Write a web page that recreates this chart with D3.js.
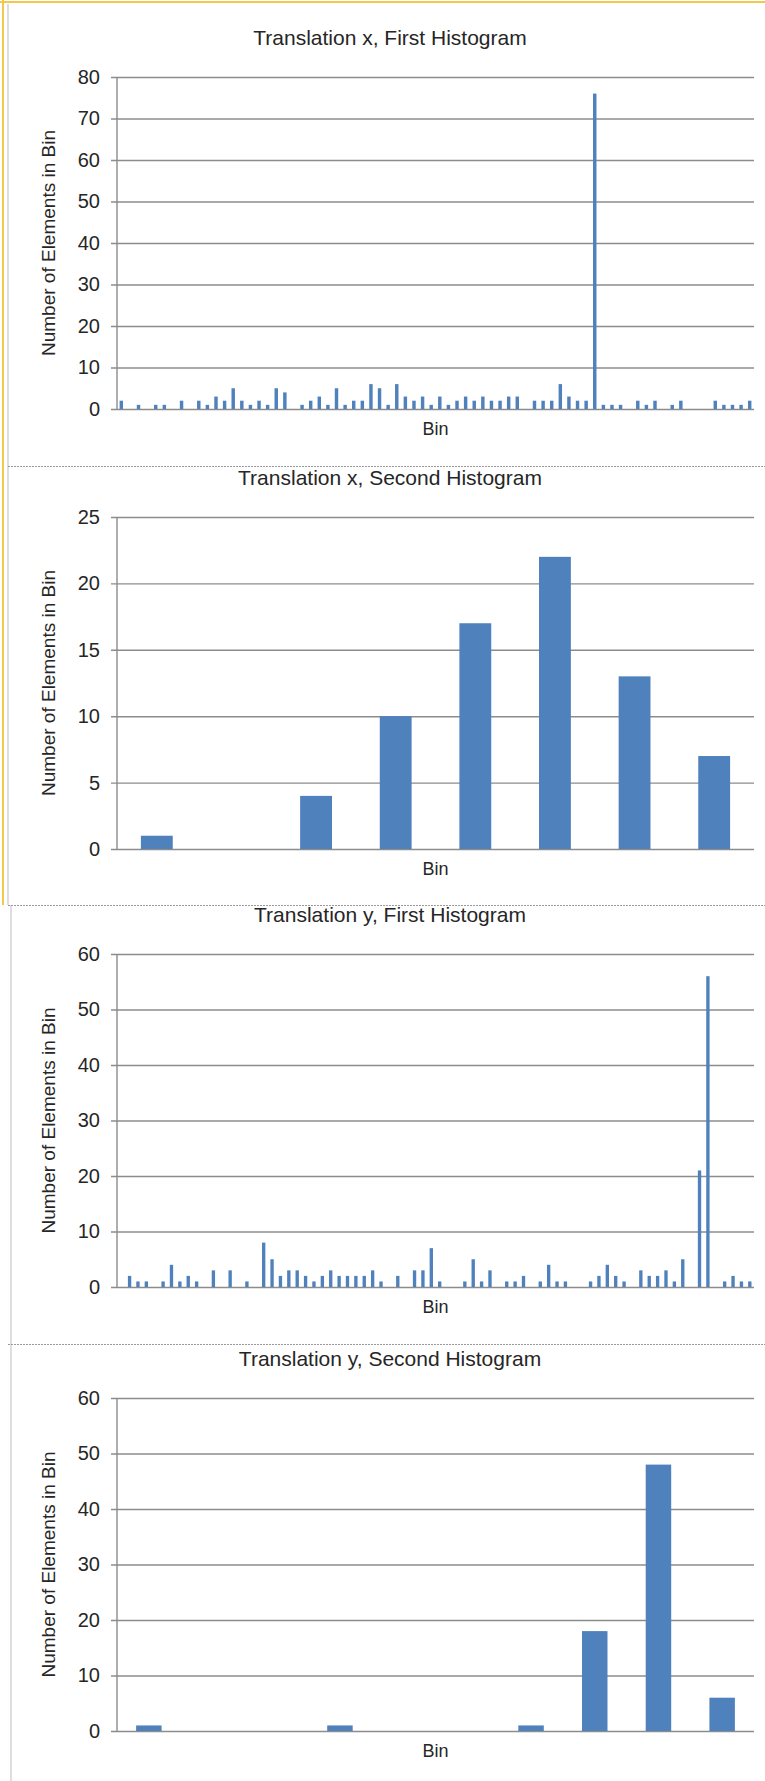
<!DOCTYPE html>
<html lang="en">
<head>
  <meta charset="utf-8">
  <title>Translation histograms</title>
  <script src="https://d3js.org/d3.v7.min.js"></script>
  <style>
    body { margin: 0; background: #fff; }
    svg { display: block; font-family: "Liberation Sans", Arial, sans-serif; }
  </style>
</head>
<body>
  <svg id="chart" width="765" height="1781"></svg>

  <script>
    // counts per bin
    const binsX1 = [2,0,1,0,1,1,0,2,0,2,1,3,2,5,2,1,2,1,5,4,0,1,2,3,1,5,1,2,2,6,
                    5,1,6,3,2,3,1,3,1,2,3,2,3,2,2,3,3,0,2,2,2,6,3,2,2,76,1,1,1,0,
                    2,1,2,0,1,2,0,0,0,2,1,1,1,2];
    const binsX2 = [1,0,4,10,17,22,13,7];
    const binsY1 = [0,2,1,1,0,1,4,1,2,1,0,3,0,3,0,1,0,8,5,2,3,3,2,1,2,3,2,2,2,2,
                    3,1,0,2,0,3,3,7,1,0,0,1,5,1,3,0,1,1,2,0,1,4,1,1,0,0,1,2,4,2,
                    1,0,3,2,2,3,1,5,0,21,56,0,1,2,1,1];
    const binsY2 = [1,0,0,1,0,0,1,18,48,6];

    const titles = [
      "Translation x, First Histogram",
      "Translation x, Second Histogram",
      "Translation y, First Histogram",
      "Translation y, Second Histogram"
    ];
    const ticksX1 = [0,10,20,30,40,50,60,70,80];
    const ticksX2 = [0,5,10,15,20,25];
    const ticksY1 = [0,10,20,30,40,50,60];
    const ticksY2 = [0,10,20,30,40,50,60];
    const yLabel = "Number of Elements in Bin";
    const xLabel = "Bin";

    const series = [binsX1, binsX2, binsY1, binsY2];
    const tickSets = [ticksX1, ticksX2, ticksY1, ticksY2];

    // layout of each panel (top edge, plot top, plot baseline)
    const panels = [
      {top: 4,    plotTop: 77,   base: 409},
      {top: 466,  plotTop: 517,  base: 849},
      {top: 905,  plotTop: 954,  base: 1287},
      {top: 1344, plotTop: 1398, base: 1731}
    ];
    const left = 117, right = 754;
    const barColor = "#4f81bd";
    const gridColor = "#8c8c8c";

    const svg = d3.select("#chart");

    // frames
    svg.append("line").attr("x1", 0).attr("x2", 765).attr("y1", 2).attr("y2", 2)
      .attr("stroke", "#f2c94c").attr("stroke-width", 2);
    svg.append("line").attr("x1", 3).attr("x2", 3).attr("y1", 0).attr("y2", 905)
      .attr("stroke", "#f2c94c").attr("stroke-width", 2);
    svg.append("line").attr("x1", 8).attr("x2", 8).attr("y1", 4).attr("y2", 905)
      .attr("stroke", "#bdbdbd");
    svg.append("line").attr("x1", 11).attr("x2", 11).attr("y1", 905).attr("y2", 1781)
      .attr("stroke", "#bdbdbd");
    [466, 905, 1344].forEach(y => {
      svg.append("line").attr("x1", 8).attr("x2", 765).attr("y1", y + 0.5).attr("y2", y + 0.5)
        .attr("stroke", "#9a9a9a").attr("stroke-dasharray", "2,1");
    });

    series.forEach((values, i) => {
      const p = panels[i];
      const ticks = tickSets[i];
      const g = svg.append("g");

      const x = d3.scaleBand()
          .domain(d3.range(values.length))
          .range([left, right])
          .paddingInner(0.6)
          .paddingOuter(0.3);

      const y = d3.scaleLinear()
          .domain([0, d3.max(ticks)])
          .range([p.base, p.plotTop]);

      // gridlines + tick labels
      const yAxis = d3.axisLeft(y)
          .tickValues(ticks)
          .tickSize(-(right - left) - 6)
          .tickPadding(12)
          .tickFormat(d3.format("d"));

      const ax = g.append("g")
          .attr("transform", `translate(${right},0)`)
          .call(yAxis);
      ax.select(".domain").remove();
      ax.selectAll(".tick line")
          .attr("stroke", gridColor)
          .attr("stroke-width", 1.4)
          .attr("x1", 0)
          .attr("x2", -(right - left) - 6);
      ax.selectAll(".tick text")
          .attr("x", -(right - left) - 17)
          .attr("font-size", 20)
          .attr("font-family", "'Liberation Sans', Arial, sans-serif")
          .attr("fill", "#262626");

      // vertical axis line
      g.append("line")
          .attr("x1", left).attr("x2", left)
          .attr("y1", y(d3.max(ticks))).attr("y2", p.base)
          .attr("stroke", gridColor)
          .attr("stroke-width", 1.4);

      g.append("g")
          .attr("fill", barColor)
        .selectAll("rect")
        .data(values.map((v, k) => ({k, v})).filter(d => d.v > 0))
        .join("rect")
          .attr("x", d => x(d.k))
          .attr("width", x.bandwidth())
          .attr("y", d => y(d.v))
          .attr("height", d => y(0) - y(d.v));

      g.append("text")
          .attr("x", 390)
          .attr("y", p.plotTop - 32)
          .attr("text-anchor", "middle")
          .attr("font-size", 21)
          .attr("fill", "#262626")
          .text(titles[i]);

      g.append("text")
          .attr("x", (left + right) / 2)
          .attr("y", p.base + 26)
          .attr("text-anchor", "middle")
          .attr("font-size", 18)
          .attr("fill", "#262626")
          .text(xLabel);

      g.append("text")
          .attr("transform", `translate(55,${(p.plotTop + p.base) / 2}) rotate(-90)`)
          .attr("text-anchor", "middle")
          .attr("font-size", 19)
          .attr("fill", "#262626")
          .text(yLabel);
    });
  </script>
</body>
</html>
